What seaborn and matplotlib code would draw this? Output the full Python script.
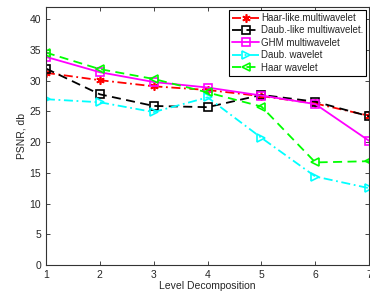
import pandas as pd
import seaborn as sns
import matplotlib.pyplot as plt

# -----------------------
# Data
# -----------------------
levels = [1, 2, 3, 4, 5, 6, 7]

haar_like_multi = [31.3, 30.1, 29.1, 28.5, 27.5, 26.3, 24.3]
daub_like_multi = [32.0, 27.8, 25.9, 25.7, 27.7, 26.6, 24.2]
ghm_multi = [33.9, 31.4, 29.8, 28.9, 27.6, 26.2, 20.2]
daub_wavelet = [27.0, 26.5, 24.9, 27.3, 20.7, 14.4, 12.5]
haar_wavelet = [34.6, 31.9, 30.3, 28.1, 25.8, 16.7, 16.9]

series_names = [
    "Haar-like.multiwavelet",
    "Daub.-like multiwavelet.",
    "GHM multiwavelet",
    "Daub. wavelet",
    "Haar wavelet",
]
series_values = [haar_like_multi, daub_like_multi, ghm_multi, daub_wavelet, haar_wavelet]

df = pd.DataFrame({
    "level": levels * len(series_names),
    "psnr": sum(series_values, []),
    "method": [n for n in series_names for _ in levels],
})

# -----------------------
# Styles
# -----------------------
colors = ["#ff0000", "#000000", "#ff00ff", "#00ffff", "#00ff00"]
linestyles = [(0, (5, 2, 1, 2)), (0, (5, 3)), "-", (0, (5, 2, 1, 2)), (0, (5, 3))]
markers = [(6, 2, 0), "s", "s", ">", "<"]

sns.set_style("ticks")
plt.rcParams["font.family"] = ["Liberation Sans", "DejaVu Sans"]

fig = plt.figure(figsize=(3.7, 2.97), dpi=100)
ax = fig.add_axes([0.124, 0.108, 0.874, 0.868])

for name, c, ls, m in zip(series_names, colors, linestyles, markers):
    sub = df[df["method"] == name]
    sns.lineplot(
        data=sub, x="level", y="psnr", ax=ax, color=c, label=name,
        marker=m, markersize=5.5 if m != (6, 2, 0) else 6, linewidth=1.3,
        linestyle=ls,
        markerfacecolor="none",
        markeredgecolor=c, markeredgewidth=1.2,
    )

ax.set_xlim(1, 7)
ax.set_ylim(0, 42)
ax.set_xticks(levels)
ax.set_yticks(range(0, 41, 5))
ax.tick_params(direction="in", length=3, labelsize=7.5, top=True, right=True, width=0.6)
for s in ax.spines.values():
    s.set_linewidth(0.8)
    s.set_color("#333333")

ax.set_xlabel("Level Decomposition", fontsize=7.5, labelpad=1)
ax.set_ylabel("PSNR, db", fontsize=7.5, labelpad=2)

leg = ax.legend(loc="upper right", fontsize=7, frameon=True, fancybox=False,
                edgecolor="black", framealpha=1, handlelength=2.8,
                borderpad=0.3, labelspacing=0.25, handletextpad=0.2,
                borderaxespad=0.3)
leg.get_frame().set_linewidth(0.8)

plt.savefig("out.png", dpi=100)
